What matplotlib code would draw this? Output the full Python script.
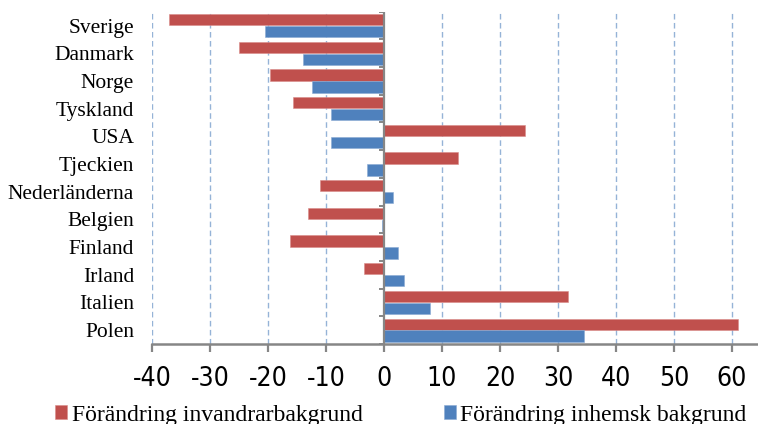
import matplotlib
matplotlib.use("Agg")
import matplotlib.pyplot as plt
import numpy as np

# data (change, percent)
countries = ["Sverige", "Danmark", "Norge", "Tyskland", "USA", "Tjeckien",
             "Nederländerna", "Belgien", "Finland", "Irland", "Italien", "Polen"]
invandrar = [-37.0, -25.0, -19.7, -15.6, 24.4, 12.8, -11.0, -13.1, -16.2, -3.5, 31.7, 61.1]
inhemsk = [-20.5, -14.0, -12.4, -9.2, -9.1, -2.9, 1.6, -0.3, 2.4, 3.5, 8.0, 34.5]
xticks = [-40, -30, -20, -10, 0, 10, 20, 30, 40, 50, 60]

red = "#C0504D"
blue = "#4F81BD"
axis_gray = "#868686"
grid_blue = "#95B3D7"

fig = plt.figure(figsize=(7.58, 4.24), dpi=100)
ax = fig.add_axes([152 / 758, 1 - 344 / 424, 1 - 152 / 758, (344 - 11.7) / 424])

y = np.arange(len(countries))
h = 0.41
off = 0.215
ax.barh(y - off, invandrar, height=h, color=red, edgecolor="#D98C8A", linewidth=0.4,
        label="Förändring invandrarbakgrund", zorder=3)
ax.barh(y + off, inhemsk, height=h, color=blue, edgecolor="#8AAAD4", linewidth=0.4,
        label="Förändring inhemsk bakgrund", zorder=3)

ax.set_xlim(-40, 64.5)
ax.set_ylim(len(countries) - 0.5, -0.5)

# dashed vertical gridlines
for v in xticks:
    if v != 0:
        ax.axvline(v, color=grid_blue, linestyle=(0, (4, 2.5)), linewidth=1.0, zorder=1)

# zero axis with small category ticks
ax.axvline(0, color=axis_gray, linewidth=1.6, zorder=4)
bounds = np.arange(len(countries) + 1) - 0.5
ax.hlines(bounds, -0.9, 0, color=axis_gray, linewidth=1.4, zorder=4)

for s in ["left", "right", "top"]:
    ax.spines[s].set_visible(False)
ax.spines["bottom"].set_color(axis_gray)
ax.spines["bottom"].set_linewidth(1.8)

ax.set_xticks(xticks)
ax.set_xticklabels([str(v) for v in xticks], family=["DejaVu Sans"], stretch="condensed",
                   fontsize=19)
ax.tick_params(axis="x", direction="out", length=6, width=1.6, color=axis_gray, pad=10)

ax.set_yticks(y)
ax.set_yticklabels(countries, family=["Liberation Serif", "DejaVu Serif"], fontsize=15.5)
ax.tick_params(axis="y", length=0, pad=13)

fig.legend(loc="center left", bbox_to_anchor=(55 / 758, 1 - 415 / 424), ncol=2,
           frameon=False, borderpad=0, borderaxespad=0,
           handlelength=0.5, handleheight=0.55, handletextpad=0.2, columnspacing=3.45,
           prop={"family": ["Liberation Serif", "DejaVu Serif"], "size": 17.0})

fig.savefig("out.png", dpi=100)
